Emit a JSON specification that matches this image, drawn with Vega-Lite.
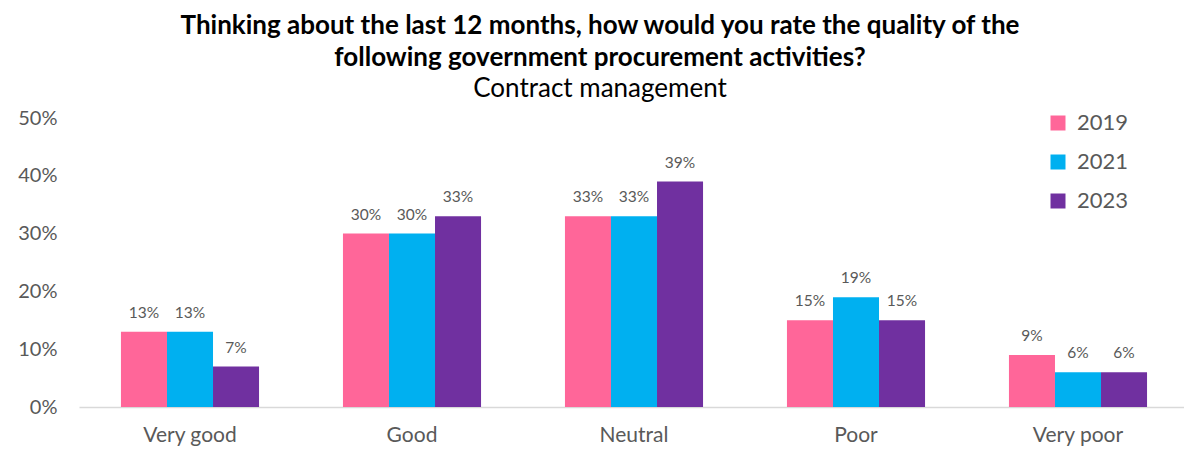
{
  "$schema": "https://vega.github.io/schema/vega-lite/v6.json",
  "autosize": "none",
  "width": 1110,
  "height": 289,
  "padding": {"left": 79, "top": 118, "right": 0, "bottom": 43},
  "background": "white",
  "title": {
    "text": ["Thinking about the last 12 months, how would you rate the quality of the", "following government procurement activities?"],
    "subtitle": "Contract management",
    "anchor": "middle",
    "frame": "group",
    "dx": -34,
    "offset": 6,
    "font": "Lato",
    "fontSize": 26,
    "fontWeight": "bold",
    "color": "#000000",
    "lineHeight": 32,
    "subtitleFont": "Lato",
    "subtitleFontSize": 26,
    "subtitleColor": "#000000",
    "subtitleLineHeight": 30,
    "subtitlePadding": 5
  },
  "config": {
    "view": {"stroke": null},
    "font": "Lato"
  },
  "data": {
    "values": [
      {"cat": "Very good", "year": "2019", "v": 0.13},
      {"cat": "Very good", "year": "2021", "v": 0.13},
      {"cat": "Very good", "year": "2023", "v": 0.07},
      {"cat": "Good", "year": "2019", "v": 0.30},
      {"cat": "Good", "year": "2021", "v": 0.30},
      {"cat": "Good", "year": "2023", "v": 0.33},
      {"cat": "Neutral", "year": "2019", "v": 0.33},
      {"cat": "Neutral", "year": "2021", "v": 0.33},
      {"cat": "Neutral", "year": "2023", "v": 0.39},
      {"cat": "Poor", "year": "2019", "v": 0.15},
      {"cat": "Poor", "year": "2021", "v": 0.19},
      {"cat": "Poor", "year": "2023", "v": 0.15},
      {"cat": "Very poor", "year": "2019", "v": 0.09},
      {"cat": "Very poor", "year": "2021", "v": 0.06},
      {"cat": "Very poor", "year": "2023", "v": 0.06}
    ]
  },
  "encoding": {
    "x": {
      "field": "cat", "type": "nominal", "sort": null,
      "scale": {"paddingInner": 0.378, "paddingOuter": 0.189},
      "axis": {
        "title": null, "labelAngle": 0, "labelFontSize": 21, "labelColor": "#595959",
        "labelFont": "Lato",
        "domainColor": "#d9d9d9", "domainWidth": 1.5, "ticks": false, "labelPadding": 17
      }
    },
    "xOffset": {"field": "year", "type": "nominal"},
    "y": {
      "field": "v", "type": "quantitative",
      "scale": {"domain": [0, 0.5], "nice": false},
      "axis": {
        "title": null, "format": ".0%", "values": [0, 0.1, 0.2, 0.3, 0.4, 0.5],
        "grid": false, "domain": false, "ticks": false, "labelFontSize": 20,
        "labelColor": "#595959", "labelFont": "Lato", "labelPadding": 22
      }
    }
  },
  "layer": [
    {
      "mark": {"type": "bar"},
      "encoding": {
        "color": {
          "field": "year", "type": "nominal",
          "scale": {"domain": ["2019", "2021", "2023"], "range": ["#FF6699", "#00B0F0", "#7030A0"]},
          "legend": {
            "title": null, "orient": "none", "legendX": 968, "legendY": -6,
            "symbolType": "square", "symbolSize": 225, "symbolStrokeWidth": 0,
            "labelFontSize": 22, "labelColor": "#595959", "labelFont": "Lato",
            "rowPadding": 17, "labelOffset": 8
          }
        }
      }
    },
    {
      "mark": {"type": "text", "baseline": "bottom", "dy": -11, "fontSize": 15.5, "color": "#595959", "font": "Lato"},
      "encoding": {
        "text": {"field": "v", "type": "quantitative", "format": ".0%"}
      }
    }
  ]
}
